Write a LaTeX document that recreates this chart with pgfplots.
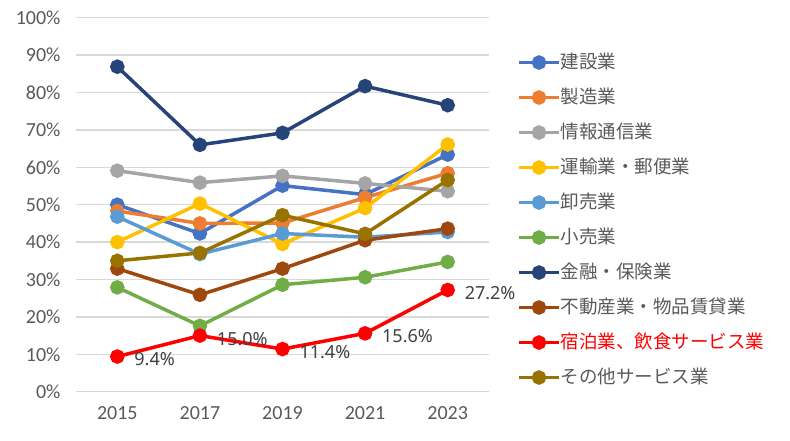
\documentclass[border=0pt]{standalone}
\usepackage{pgfplots}
\pgfplotsset{compat=1.18}
\usepackage{fontspec}
\setmainfont{Carlito}
\newfontfamily\cjk{Noto Sans CJK JP}
\newfontfamily\lblfont{Noto Sans}
\definecolor{cA}{HTML}{4472C4}
\definecolor{cB}{HTML}{ED7D31}
\definecolor{cC}{HTML}{A5A5A5}
\definecolor{cD}{HTML}{FFC000}
\definecolor{cE}{HTML}{5B9BD5}
\definecolor{cF}{HTML}{70AD47}
\definecolor{cG}{HTML}{264478}
\definecolor{cH}{HTML}{9E480E}
\definecolor{cI}{HTML}{FF0000}
\definecolor{cJ}{HTML}{997300}
\definecolor{gridgray}{HTML}{D9D9D9}
\definecolor{labgray}{HTML}{595959}
\definecolor{dlgray}{HTML}{404040}
\begin{document}
\begin{tikzpicture}
\path[use as bounding box] (0,0) rectangle (790pt,440pt);
\begin{axis}[
  at={(76pt,48.3pt)}, anchor=south west,
  scale only axis, width=413pt, height=374pt,
  xmin=-0.5, xmax=4.5, ymin=0, ymax=100,
  xtick={0,1,2,3,4}, xticklabels={2015,2017,2019,2021,2023},
  ytick={0,10,...,100},
  /pgf/number format/assume math mode=true,
  yticklabel={\pgfmathprintnumber{\tick}\%},
  axis line style={draw=none}, major tick length=0pt,
  ymajorgrids, grid style={color=gridgray, line width=1.3pt},
  tick label style={font=\fontsize{20}{24}\selectfont, text=labgray},
  yticklabel style={xshift=-12pt},
  xticklabel style={yshift=-11pt},
  clip=false,
  every axis plot/.append style={line width=3.5pt, mark=*, mark size=5.5pt, mark options={solid}},
  legend image code/.code={\draw[mark repeat=2,mark phase=2] plot coordinates {(0pt,0pt)(20pt,0pt)(40pt,0pt)};},
  legend cell align=left,
  legend style={draw=none, fill=none, at={(1.068,0.459)}, anchor=west,
    inner sep=0pt, row sep=16pt,
    font=\cjk\fontsize{18.5}{22}\selectfont, text=labgray,
    /tikz/every even column/.append style={column sep=4pt},
    nodes={inner sep=0pt, text height=15pt, text depth=4pt}},
]
\addplot[color=cA] coordinates {(0,50.0)(1,42.3)(2,55.1)(3,52.7)(4,63.4)};
\addlegendentry{建設業}
\addplot[color=cB] coordinates {(0,48.3)(1,45.0)(2,45.1)(3,51.9)(4,58.4)};
\addlegendentry{製造業}
\addplot[color=cC] coordinates {(0,59.1)(1,55.9)(2,57.7)(3,55.7)(4,53.6)};
\addlegendentry{情報通信業}
\addplot[color=cD] coordinates {(0,40.0)(1,50.3)(2,39.5)(3,49.1)(4,66.1)};
\addlegendentry{運輸業・郵便業}
\addplot[color=cE] coordinates {(0,46.8)(1,36.8)(2,42.3)(3,41.3)(4,42.7)};
\addlegendentry{卸売業}
\addplot[color=cF] coordinates {(0,27.9)(1,17.6)(2,28.6)(3,30.6)(4,34.7)};
\addlegendentry{小売業}
\addplot[color=cG] coordinates {(0,86.9)(1,66.0)(2,69.2)(3,81.7)(4,76.6)};
\addlegendentry{金融・保険業}
\addplot[color=cH] coordinates {(0,32.9)(1,25.9)(2,32.9)(3,40.5)(4,43.6)};
\addlegendentry{不動産業・物品賃貸業}
\addplot[color=cI, point meta=y,
  nodes near coords={\pgfmathprintnumber[fixed,fixed zerofill,precision=1]{\pgfplotspointmeta}\%},
  every node near coord/.append style={anchor=west, xshift=12pt, yshift=-3pt,
    font=\lblfont\fontsize{18}{22}\selectfont, text=dlgray}]
  coordinates {(0,9.4)(1,15.0)(2,11.4)(3,15.6)(4,27.2)};
\addlegendentry{\textcolor{cI}{宿泊業、飲食サービス業}}
\addplot[color=cJ] coordinates {(0,35.0)(1,37.1)(2,47.2)(3,42.2)(4,56.6)};
\addlegendentry{その他サービス業}
\end{axis}
\end{tikzpicture}
\end{document}
